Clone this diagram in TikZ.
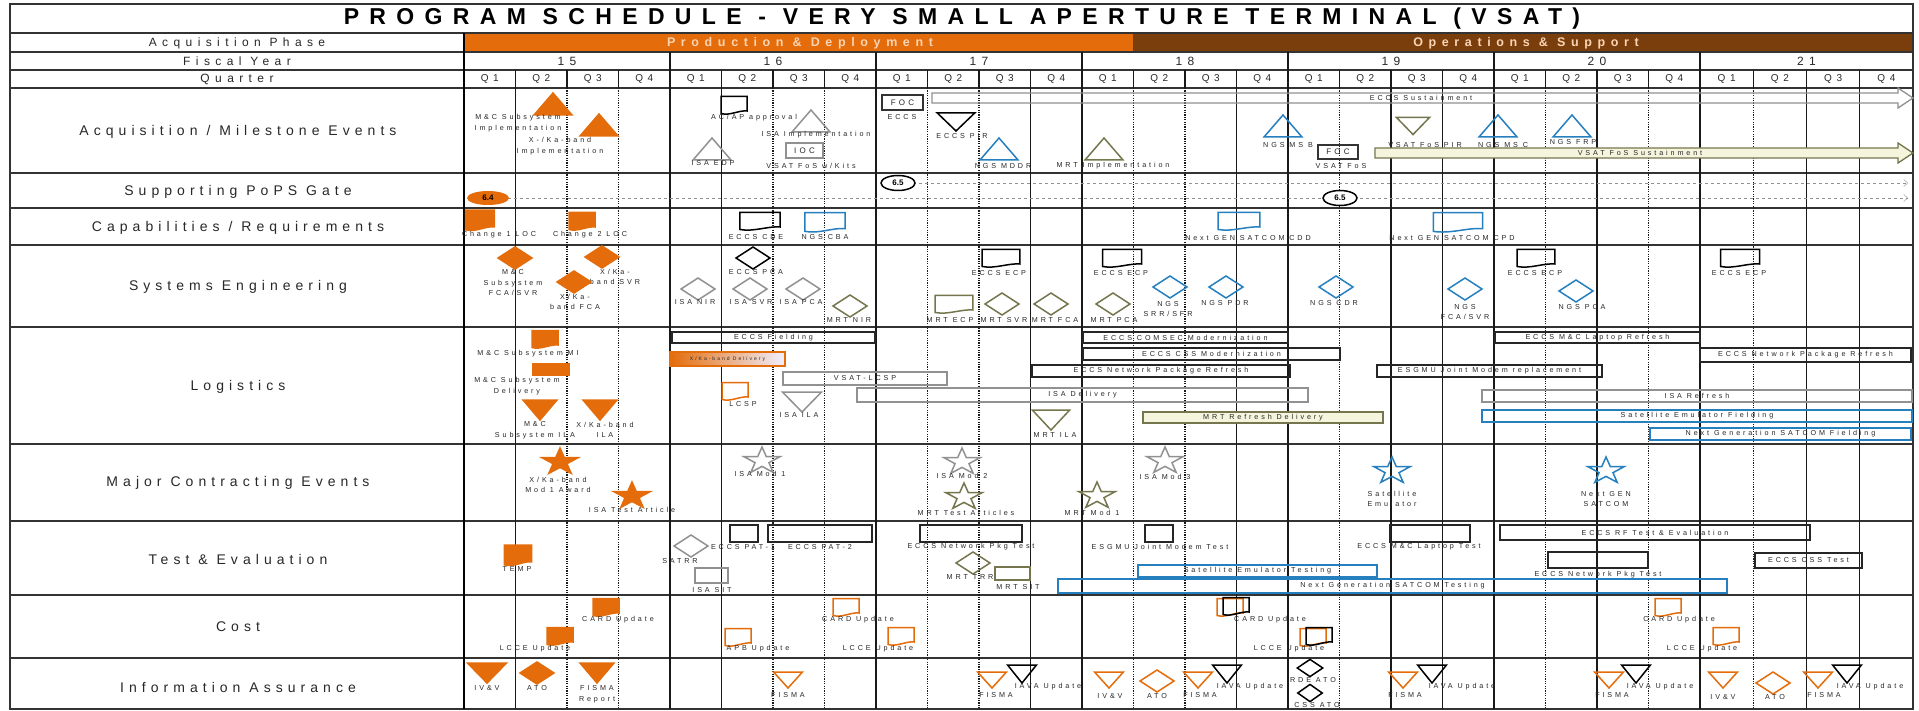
\documentclass[tikz,border=0pt]{standalone}
\usepackage{fontspec}
\setmainfont{Liberation Sans}
\newfontfamily\headfam[LetterSpace=45]{Liberation Sans}
\newfontfamily\rowfam[LetterSpace=36]{Liberation Sans}
\newfontfamily\itemfam[LetterSpace=40]{Liberation Sans}
\usetikzlibrary{arrows.meta,shapes.geometric}

\definecolor{ora}{RGB}{228,108,10}
\definecolor{brn}{RGB}{122,62,12}
\definecolor{peach}{RGB}{251,212,180}
\definecolor{blu}{RGB}{38,128,192}
\definecolor{oli}{RGB}{118,118,78}
\definecolor{gry}{RGB}{145,145,145}
\definecolor{tanfill}{RGB}{245,245,222}
\definecolor{txt}{RGB}{40,40,40}

\begin{document}
\begin{tikzpicture}[x=1pt,y=-1pt,
    rule/.style={line width=1.4pt, black!80},
    yearline/.style={line width=1.9pt, black!90},
    qsolid/.style={line width=1.2pt, black!90},
    qdots/.style={line width=1.2pt, black!90, dash pattern=on 1.2pt off 1.2pt},
    head/.style={font=\headfam\fontsize{12}{14}\selectfont, text=txt},
    rowlbl/.style={font=\rowfam\fontsize{14}{16}\selectfont, text=txt},
    lbl/.style={font=\itemfam\fontsize{7.2}{10.5}\selectfont, text=txt, align=center, inner sep=0pt},
    bar/.style={line width=1.6pt},
    ms/.style={line width=1.5pt},
    tup/.pic={\draw[ms, pic actions] (-19,11) -- (19,11) -- (0,-11) -- cycle;},
    tdn/.pic={\draw[ms, pic actions] (-17,-10) -- (17,-10) -- (0,10) -- cycle;},
    dia/.pic={\draw[ms, pic actions] (-17,0) -- (0,-11) -- (17,0) -- (0,11) -- cycle;},
    docu/.pic={\draw[ms, pic actions] (-13,-8.5) -- (13,-8.5) -- (13,6) .. controls (5,5) and (-4,11) .. (-13,8.5) -- cycle;},
    mstar/.pic={\draw[ms, pic actions] (-90:19 and 14) -- (-54:7.3 and 5.4) -- (-18:19 and 14) -- (18:7.3 and 5.4)
      -- (54:19 and 14) -- (90:7.3 and 5.4) -- (126:19 and 14) -- (162:7.3 and 5.4) -- (198:19 and 14) -- (234:7.3 and 5.4) -- cycle;}
  ]
  \fill[white] (0,0) rectangle (1919,711);
  \useasboundingbox (0,0) rectangle (1919,711);

  % Phase bar
  \fill[ora] (464,33) rectangle (1133,52);
  \fill[brn] (1133,33) rectangle (1913,52);
  \node[font=\headfam\bfseries\fontsize{12.5}{14}\selectfont, text=peach] (prod) at (800,43) {Production \& Deployment};
  \node[font=\headfam\bfseries\fontsize{12.5}{14}\selectfont, text=peach] (ops) at (1526,43) {Operations \& Support};

  % Frame and rows
  \foreach \y in {33,52,70,88,173,208,245,327,444,521,595,658}
    \draw[rule] (10,\y) -- (1913,\y);
  \draw[rule] (10,4) rectangle (1913,709);
  \draw[line width=2.2pt] (464,33) -- (464,709);

  % Quarter lines
  \foreach \n in {1,...,27} {
    \pgfmathsetmacro\xq{\n<25 ? 464+51.5*\n : 1700+53.25*(\n-24)}
    \draw[qsolid] (\xq,70) -- (\xq,88);
  }
  \foreach \n in {1,5,11,15,18,19,22,26,27} {
    \pgfmathsetmacro\xq{\n<25 ? 464+51.5*\n : 1700+53.25*(\n-24)}
    \draw[qsolid] (\xq,88) -- (\xq,709);
  }
  \foreach \n in {2,3,6,7,9,10,13,14,17,21,23,25} {
    \pgfmathsetmacro\xq{\n<25 ? 464+51.5*\n : 1700+53.25*(\n-24)}
    \draw[qdots] (\xq,88) -- (\xq,709);
  }
  % Year lines
  \foreach \n in {4,8,...,24}
    \draw[yearline] ({464+51.5*\n},52) -- ({464+51.5*\n},709);

  % Title and headers
  \node[font=\headfam\bfseries\fontsize{23}{26}\selectfont] (title) at (962,19) {PROGRAM SCHEDULE - VERY SMALL APERTURE TERMINAL (VSAT)};
  \node[head] (hphase) at (237,43) {Acquisition Phase};
  \node[head] (hyear) at (237,61) {Fiscal Year};
  \node[head] (hqtr) at (237,79) {Quarter};
  \foreach \yr [count=\i from 0] in {15,...,21} {
    \pgfmathsetmacro\xy{\i<6 ? 464+51.5*(4*\i+2) : 1806.5}
    \node[head] (fy\yr) at (\xy,61) {\yr};
  }
  \foreach \n in {0,...,27} {
    \pgfmathsetmacro\xq{\n<24 ? 464+51.5*(\n+0.5) : 1700+53.25*(\n-23.5)}
    \pgfmathtruncatemacro\qn{mod(\n,4)+1}
    \node[head, font=\headfam\fontsize{10}{12}\selectfont] (q\n) at (\xq,79) {Q\qn};
  }

  % Row labels
  \node[rowlbl] (racq) at (238,132) {Acquisition / Milestone Events};
  \node[rowlbl] (rpops) at (238,192) {Supporting PoPS Gate};
  \node[rowlbl] (rcap) at (238,228) {Capabilities / Requirements};
  \node[rowlbl] (rse) at (238,287) {Systems Engineering};
  \node[rowlbl] (rlog) at (238,387) {Logistics};
  \node[rowlbl] (rmce) at (238,483) {Major Contracting Events};
  \node[rowlbl] (rte) at (238,559) {Test \& Evaluation};
  \node[rowlbl] (rcost) at (238,627) {Cost};
  \node[rowlbl] (ria) at (238,687) {Information Assurance};

  % Acquisition / Milestone Events
  \pic[draw=ora, fill=ora] at (553,104) {tup};
  \pic[draw=ora, fill=ora] at (599,125) {tup};
  \node[lbl] (a1) at (518,123) {M\&C Subsystem\\Implementation};
  \node[lbl] (a2) at (560,146) {X-/Ka-band\\Implementation};
  \pic[draw=black] at (734,105) {docu};
  \node[lbl] (a3) at (754,118) {AC/AP approval};
  \pic[draw=gry] at (811,121) {tup};
  \node[lbl] (a4) at (816,135) {ISA Implementation};
  \pic[draw=gry] at (712,149) {tup};
  \node[lbl] (a5) at (713,163) {ISA EDP};
  \draw[ms, gry] (786,143) rectangle (823,158) node[midway, lbl, font=\itemfam\fontsize{8}{9}\selectfont] (ioc) {IOC};
  \node[lbl] (a6) at (811,166) {VSAT FoS w/Kits};
  \draw[ms, black!80] (882,95) rectangle (923,110) node[midway, lbl, font=\itemfam\fontsize{8}{9}\selectfont] (foc1) {FOC};
  \node[lbl] (a7) at (902,117) {ECCS};
  \pic[draw=black, xscale=1.1, yscale=0.9] at (956,122) {tdn};
  \node[lbl] (a8) at (962,136) {ECCS PIR};
  \pic[draw=blu] at (999,149) {tup};
  \node[lbl] (a9) at (1003,166) {NGS MDDR};
  \pic[draw=oli] at (1104,149) {tup};
  \node[lbl] (a10) at (1113,166) {MRT Implementation};
  \pic[draw=blu] at (1283,126) {tup};
  \node[lbl] (a11) at (1288,145) {NGS MS B};
  \draw[ms, black!80] (1318,145) rectangle (1358,159) node[midway, lbl, font=\itemfam\fontsize{8}{9}\selectfont] (foc2) {FOC};
  \node[lbl] (a12) at (1341,166) {VSAT FoS};
  \pic[draw=oli, xscale=0.97, yscale=0.85] at (1413,126) {tdn};
  \node[lbl] (a13) at (1425,145) {VSAT FoS PIR};
  \pic[draw=blu] at (1498,126) {tup};
  \node[lbl] (a14) at (1503,145) {NGS MS C};
  \pic[draw=blu] at (1572,126) {tup};
  \node[lbl] (a15) at (1573,142) {NGS FRP};
  \draw[gry, line width=1.3pt] (932,93) -- (1898,93) -- (1898,88) -- (1913,98) -- (1898,108) -- (1898,103) -- (932,103) -- cycle;
  \node[lbl] (eccssus) at (1421,98) {ECCS Sustainment};
  \draw[oli, line width=1.3pt, fill=tanfill] (1375,148) -- (1898,148) -- (1898,143) -- (1913,153) -- (1898,163) -- (1898,158) -- (1375,158) -- cycle;
  \node[lbl] (vsatsus) at (1640,153) {VSAT FoS Sustainment};

  % Supporting PoPS Gate
  \draw[gry, dashed, -{Straight Barb[length=4pt,width=7pt]}] (913,183) -- (1908,183);
  \draw[gry, dashed, -{Straight Barb[length=4pt,width=7pt]}] (508,198) -- (1908,198);
  \node[ellipse, fill=ora, minimum width=42, minimum height=14, inner sep=0pt, font=\bfseries\fontsize{8}{9}\selectfont] (g64) at (488,198) {6.4};
  \node[ellipse, draw, fill=white, line width=1.5pt, minimum width=34, minimum height=15, inner sep=0pt, font=\bfseries\fontsize{8}{9}\selectfont] (g65a) at (898,183) {6.5};
  \node[ellipse, draw, fill=white, line width=1.5pt, minimum width=34, minimum height=15, inner sep=0pt, font=\bfseries\fontsize{8}{9}\selectfont] (g65b) at (1340,198) {6.5};

  % Capabilities / Requirements
  \pic[draw=ora, fill=ora, xscale=1.1, yscale=1.15] at (480,220) {docu};
  \node[lbl] (c1) at (499,235) {Change 1 LOC};
  \pic[draw=ora, fill=ora] at (582,221) {docu};
  \node[lbl] (c2) at (590,235) {Change 2 LOC};
  \pic[draw=black, xscale=1.55] at (760,221) {docu};
  \node[lbl] (c3) at (756,237) {ECCS CDE};
  \pic[draw=blu, xscale=1.55, yscale=1.1] at (825,222) {docu};
  \node[lbl] (c4) at (825,237) {NGS CBA};
  \pic[draw=blu, xscale=1.6] at (1239,221) {docu};
  \node[lbl] (c5) at (1248,238) {Next GEN SATCOM CDD};
  \pic[draw=blu, xscale=1.9, yscale=1.1] at (1458,222) {docu};
  \node[lbl] (c6) at (1452,238) {Next GEN SATCOM CPD};

  % Systems Engineering
  \pic[draw=ora, fill=ora] at (515,258) {dia};
  \node[lbl] (s1) at (513,283) {M\&C\\Subsystem\\FCA/SVR};
  \pic[draw=ora, fill=ora] at (602,257) {dia};
  \node[lbl] (s2) at (615,277) {X/Ka-\\band SVR};
  \pic[draw=ora, fill=ora] at (574,282) {dia};
  \node[lbl] (s3) at (575,302) {X/Ka-\\band FCA};
  \pic[draw=black] at (753,258) {dia};
  \node[lbl] (s4) at (756,272) {ECCS PCA};
  \pic[draw=gry] at (698,289) {dia};
  \node[lbl] (s5) at (695,302) {ISA NIR};
  \pic[draw=gry] at (750,289) {dia};
  \node[lbl] (s6) at (751,302) {ISA SVR};
  \pic[draw=gry] at (803,289) {dia};
  \node[lbl] (s7) at (801,302) {ISA PCA};
  \pic[draw=oli] at (850,306) {dia};
  \node[lbl] (s8) at (849,320) {MRT NIR};
  \pic[draw=oli, xscale=1.45] at (954,304) {docu};
  \node[lbl] (s9) at (950,320) {MRT ECP};
  \pic[draw=black, xscale=1.45] at (1001,258) {docu};
  \node[lbl] (s10) at (999,273) {ECCS ECP};
  \pic[draw=oli] at (1002,304) {dia};
  \node[lbl] (s11) at (1004,320) {MRT SVR};
  \pic[draw=oli] at (1051,304) {dia};
  \node[lbl] (s12) at (1055,320) {MRT FCA};
  \pic[draw=black, xscale=1.5] at (1122,258) {docu};
  \node[lbl] (s13) at (1121,273) {ECCS ECP};
  \pic[draw=oli] at (1113,304) {dia};
  \node[lbl] (s14) at (1114,320) {MRT PCA};
  \pic[draw=blu] at (1170,287) {dia};
  \node[lbl] (s15) at (1168,309) {NGS\\SRR/SFR};
  \pic[draw=blu] at (1226,287) {dia};
  \node[lbl] (s16) at (1225,303) {NGS PDR};
  \pic[draw=blu] at (1336,287) {dia};
  \node[lbl] (s17) at (1334,303) {NGS CDR};
  \pic[draw=blu] at (1465,289) {dia};
  \node[lbl] (s18) at (1465,312) {NGS\\FCA/SVR};
  \pic[draw=black, xscale=1.45] at (1536,258) {docu};
  \node[lbl] (s19) at (1535,273) {ECCS ECP};
  \pic[draw=blu] at (1576,291) {dia};
  \node[lbl] (s20) at (1582,307) {NGS PCA};
  \pic[draw=black, xscale=1.5] at (1740,258) {docu};
  \node[lbl] (s21) at (1739,273) {ECCS ECP};

  % Logistics
  \pic[draw=ora, fill=ora] at (545,339) {docu};
  \node[lbl] (l1) at (528,354) {M\&C Subsystem MI};
  \fill[ora] (532,363) rectangle (570,376);
  \node[lbl] (l2) at (517,386) {M\&C Subsystem\\Delivery};
  \pic[draw=ora, fill=ora] at (540,410) {tdn};
  \node[lbl] (l3) at (535,430) {M\&C\\Subsystem ILA};
  \pic[draw=ora, fill=ora] at (600,410) {tdn};
  \node[lbl] (l4) at (605,430) {X/Ka-band\\ILA};
  \draw[bar, black!85] (672,332) rectangle (875,343) node[midway, lbl] (b1) {ECCS Fielding};
  \draw[bar, ora, left color=ora, right color=blue!6] (670,352) rectangle (785,366) node[midway, lbl, font=\itemfam\fontsize{5}{6}\selectfont] (b2) {X/Ka-band Delivery};
  \pic[draw=ora] at (735,391) {docu};
  \node[lbl] (l5) at (743,404) {LCSP};
  \draw[bar, gry] (783,372) rectangle (947,385) node[midway, lbl] (b3) {VSAT-LCSP};
  \draw[bar, gry] (857,388) rectangle (1308,402) node[midway, lbl] (b4) {ISA Delivery};
  \pic[draw=gry, xscale=1.15] at (802,402) {tdn};
  \node[lbl] (l6) at (799,415) {ISA ILA};
  \draw[bar, black!85] (1083,332) rectangle (1288,343) node[midway, lbl] (b5) {ECCS COMSEC Modernization};
  \draw[bar, black!85] (1083,348) rectangle (1340,360) node[midway, lbl] (b6) {ECCS CSS Modernization};
  \draw[bar, black!85] (1032,365) rectangle (1290,377) node[midway, lbl] (b7) {ECCS Network Package Refresh};
  \pic[draw=oli, xscale=1.1] at (1051,420) {tdn};
  \node[lbl] (l7) at (1055,435) {MRT ILA};
  \draw[bar, oli, fill=tanfill] (1143,412) rectangle (1383,423) node[midway, lbl] (b8) {MRT Refresh Delivery};
  \draw[bar, black!85] (1377,365) rectangle (1602,377) node[midway, lbl] (b9) {ESGMU Joint Modem replacement};
  \draw[bar, black!85] (1495,332) rectangle (1700,343) node[midway, lbl] (b10) {ECCS M\&C Laptop Refresh};
  \draw[bar, black!85] (1700,348) rectangle (1911,362) node[midway, lbl] (b11) {ECCS Network Package Refresh};
  \draw[bar, gry] (1482,390) rectangle (1912,402) node[midway, lbl] (b12) {ISA Refresh};
  \draw[bar, blu] (1482,410) rectangle (1912,422) node[midway, lbl] (b13) {Satellite Emulator Fielding};
  \draw[bar, blu] (1650,428) rectangle (1911,440) node[midway, lbl] (b14) {Next Generation SATCOM Fielding};

  % Major Contracting Events
  \pic[draw=ora, fill=ora] at (560,462) {mstar};
  \node[lbl] (m1) at (558,485) {X/Ka-band\\Mod 1 Award};
  \pic[draw=ora, fill=ora] at (632,496) {mstar};
  \node[lbl] (m2) at (632,510) {ISA Test Article};
  \pic[draw=gry] at (762,461) {mstar};
  \node[lbl] (m3) at (760,474) {ISA Mod 1};
  \pic[draw=gry] at (962,462) {mstar};
  \node[lbl] (m4) at (962,476) {ISA Mod 2};
  \pic[draw=oli] at (964,497) {mstar};
  \node[lbl] (m5) at (966,513) {MRT Test Articles};
  \pic[draw=oli] at (1097,496) {mstar};
  \node[lbl] (m6) at (1092,513) {MRT Mod 1};
  \pic[draw=gry] at (1165,461) {mstar};
  \node[lbl] (m7) at (1165,477) {ISA Mod 3};
  \pic[draw=blu] at (1392,471) {mstar};
  \node[lbl] (m8) at (1392,499) {Satellite\\Emulator};
  \pic[draw=blu] at (1606,471) {mstar};
  \node[lbl] (m9) at (1606,499) {Next GEN\\SATCOM};

  % Test & Evaluation
  \pic[draw=ora, fill=ora, xscale=1.05, yscale=1.15] at (518,555) {docu};
  \node[lbl] (t1) at (517,569) {TEMP};
  \pic[draw=gry] at (691,546) {dia};
  \node[lbl] (t2) at (680,561) {SATRR};
  \draw[bar, black!85] (730,525) rectangle (758,542);
  \node[lbl] (t3) at (743,547) {ECCS PAT-1};
  \draw[bar, black!85] (768,525) rectangle (872,542);
  \node[lbl] (t4) at (820,547) {ECCS PAT-2};
  \draw[bar, gry] (695,568) rectangle (728,583);
  \node[lbl] (t5) at (712,590) {ISA SIT};
  \draw[bar, black!85] (920,525) rectangle (1022,542);
  \node[lbl] (t6) at (971,547) {ECCS Network Pkg Test};
  \pic[draw=oli] at (973,563) {dia};
  \node[lbl] (t7) at (970,577) {MRT TRR};
  \draw[bar, oli] (995,567) rectangle (1030,580);
  \node[lbl] (t8) at (1018,587) {MRT SIT};
  \draw[bar, black!85] (1145,525) rectangle (1173,542);
  \node[lbl] (t9) at (1160,547) {ESGMU Joint Modem Test};
  \draw[bar, blu] (1138,565) rectangle (1377,577) node[midway, lbl] (t10) {Satellite Emulator Testing};
  \draw[bar, blu] (1058,579) rectangle (1727,593) node[midway, lbl] (t11) {Next Generation SATCOM Testing};
  \draw[bar, black!85] (1390,525) rectangle (1470,542);
  \node[lbl] (t12) at (1419,547) {ECCS M\&C Laptop Test};
  \draw[bar, black!85] (1500,525) rectangle (1810,540) node[midway, lbl] (t13) {ECCS RF Test \& Evaluation};
  \draw[bar, black!85] (1548,552) rectangle (1648,568);
  \node[lbl] (t14) at (1598,575) {ECCS Network Pkg Test};
  \draw[bar, black!85] (1755,553) rectangle (1862,568) node[midway, lbl] (t15) {ECCS CSS Test};

  % Cost
  \pic[draw=ora, fill=ora] at (606,607) {docu};
  \node[lbl] (k1) at (618,620) {CARD Update};
  \pic[draw=ora, fill=ora] at (560,636) {docu};
  \node[lbl] (k2) at (535,649) {LCCE Update};
  \pic[draw=ora] at (846,607) {docu};
  \node[lbl] (k3) at (858,620) {CARD Update};
  \pic[draw=ora] at (738,637) {docu};
  \node[lbl] (k4) at (758,649) {APB Update};
  \pic[draw=ora] at (901,636) {docu};
  \node[lbl] (k5) at (878,649) {LCCE Update};
  \pic[draw=ora] at (1230,607) {docu};
  \pic[draw=black] at (1236,606) {docu};
  \node[lbl] (k6) at (1270,620) {CARD Update};
  \pic[draw=ora] at (1313,637) {docu};
  \pic[draw=black] at (1319,636) {docu};
  \node[lbl] (k7) at (1289,649) {LCCE Update};
  \pic[draw=ora] at (1668,607) {docu};
  \node[lbl] (k8) at (1679,620) {CARD Update};
  \pic[draw=ora] at (1726,636) {docu};
  \node[lbl] (k9) at (1702,649) {LCCE Update};

  % Information Assurance
  \pic[draw=ora, fill=ora, xscale=1.15] at (487,673) {tdn};
  \node[lbl] (i1) at (487,688) {IV\&V};
  \pic[draw=ora, fill=ora] at (537,673) {dia};
  \node[lbl] (i2) at (537,688) {ATO};
  \pic[draw=ora, fill=ora] at (597,673) {tdn};
  \node[lbl] (i3) at (597,694) {FISMA\\Report};
  \foreach \x/\n in {788/4, 992/5, 1109/6, 1198/7, 1403/8, 1609/9, 1723/10, 1818/11}
    \pic[draw=ora, xscale=0.85, yscale=0.8] at (\x,680) {tdn};
  \foreach \x/\n in {1022/1, 1227/2, 1432/3, 1636/4, 1847/5}
    \pic[draw=black, xscale=0.85, yscale=0.9] at (\x,674) {tdn};
  \node[lbl] (i4) at (788,695) {FISMA};
  \node[lbl] (i5) at (996,695) {FISMA};
  \node[lbl] (i6) at (1048,687) {IAVA Update};
  \node[lbl] (i7) at (1110,696) {IV\&V};
  \pic[draw=ora] at (1157,681) {dia};
  \node[lbl] (i8) at (1157,696) {ATO};
  \node[lbl] (i9) at (1200,695) {FISMA};
  \node[lbl] (i10) at (1250,687) {IAVA Update};
  \pic[draw=black, xscale=0.75, yscale=0.78] at (1310,668) {dia};
  \node[lbl] (i11) at (1313,680) {RDE ATO};
  \pic[draw=black, xscale=0.72, yscale=0.78] at (1310,693) {dia};
  \node[lbl] (i12) at (1317,705) {CSS ATO};
  \node[lbl] (i13) at (1405,695) {FISMA};
  \node[lbl] (i14) at (1462,687) {IAVA Update};
  \node[lbl] (i15) at (1612,695) {FISMA};
  \node[lbl] (i16) at (1660,687) {IAVA Update};
  \node[lbl] (i17) at (1723,697) {IV\&V};
  \pic[draw=ora] at (1773,683) {dia};
  \node[lbl] (i18) at (1775,697) {ATO};
  \node[lbl] (i19) at (1824,695) {FISMA};
  \node[lbl] (i20) at (1870,687) {IAVA Update};
\end{tikzpicture}
\end{document}
